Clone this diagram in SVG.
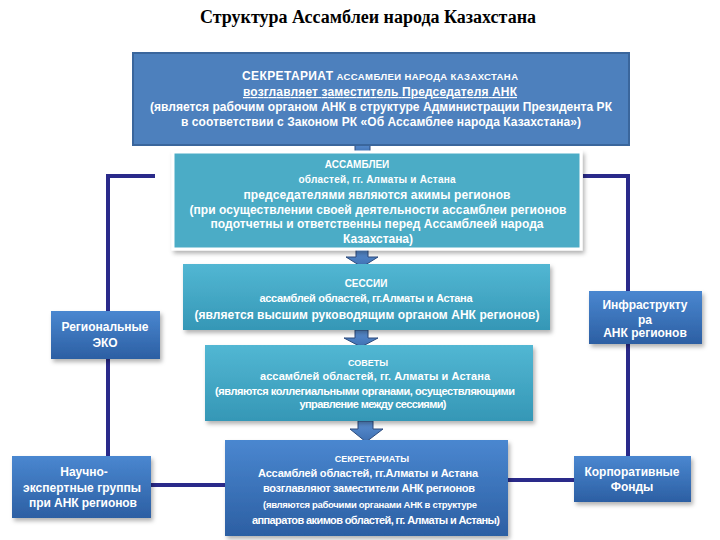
<svg xmlns="http://www.w3.org/2000/svg" width="720" height="540" viewBox="0 0 720 540">
<defs>
<linearGradient id="gBlue" x1="0" y1="0" x2="0" y2="1">
<stop offset="0" stop-color="#4a87d0"/>
<stop offset="1" stop-color="#2c5fa3"/>
</linearGradient>
<linearGradient id="gTeal" x1="0" y1="0" x2="0" y2="1">
<stop offset="0" stop-color="#52b7d3"/>
<stop offset="1" stop-color="#3597b6"/>
</linearGradient>
<linearGradient id="gArrow" x1="0" y1="0" x2="0" y2="1">
<stop offset="0" stop-color="#5b8fd0"/>
<stop offset="1" stop-color="#3d6fb2"/>
</linearGradient>
<filter id="sh" x="-10%" y="-10%" width="125%" height="135%">
<feDropShadow dx="2" dy="3" stdDeviation="2" flood-color="#000" flood-opacity="0.3"/>
</filter>
</defs>
<style>
text{font-family:"Liberation Sans",Arial,sans-serif;font-weight:bold;fill:#fff;text-anchor:middle}
.title{font-family:"Liberation Serif","Times New Roman",serif;fill:#000;font-size:18px}
.conn{stroke:#2a2a8a;stroke-width:4;fill:none}
.arrow{fill:url(#gArrow);stroke:#2c4b7c;stroke-width:1}
.blue{fill:url(#gBlue);filter:url(#sh)}
.teal{fill:url(#gTeal);filter:url(#sh)}
.s12{font-size:12px}
.s11{font-size:11px}
.s10{font-size:10px}
.s9{font-size:9px}
</style>
<rect width="720" height="540" fill="#fff"/>
<text class="title" x="368" y="23">Структура Ассамблеи народа Казахстана</text>

<g id="connectors">
<path class="conn" d="M155,176 H108 V456"/>
<path class="conn" d="M151,485 H225"/>
<path class="conn" d="M583,176 H628 V456"/>
<path class="conn" d="M508,480 H574"/>
<rect class="arrow" x="355" y="143" width="15" height="11"/>
<path class="arrow" d="M356,249 H368 V257 H378 L362,267 L346,257 H356 Z"/>
<path class="arrow" d="M355,330 H368 V338 H378 L361,347 L344,338 H355 Z"/>
<path class="arrow" d="M358,421 H373 V429 H383 L366,442 L350,429 H358 Z"/>
</g>

<g id="secretariat">
<rect x="133" y="53" width="496" height="92" fill="#4d80bd" stroke="#3a669c" stroke-width="2"/>
<text x="380" y="80" class="s12" textLength="276"><tspan>СЕКРЕТАРИАТ</tspan><tspan font-size="9.5px"> АССАМБЛЕИ НАРОДА КАЗАХСТАНА</tspan></text>
<text x="380" y="96" class="s12" text-decoration="underline" textLength="274">возглавляет заместитель Председателя АНК</text>
<text x="381" y="111" class="s12" textLength="462">(является рабочим органом АНК в структуре Администрации Президента РК</text>
<text x="381" y="126" class="s12" textLength="400">в соответствии с Законом РК «Об Ассамблее народа Казахстана»)</text>
</g>

<g id="assemblies">
<rect x="173" y="152" width="408" height="97" fill="#4bacc6" stroke="#fff" stroke-width="3" filter="url(#sh)"/>
<text x="357" y="168" class="s10">АССАМБЛЕИ</text>
<text x="377" y="183" class="s10" textLength="157">областей, гг. Алматы и Астана</text>
<text x="377" y="199" class="s12" textLength="267">председателями являются акимы регионов</text>
<text x="378" y="214" class="s12" textLength="377">(при осуществлении своей деятельности ассамблеи регионов</text>
<text x="377" y="228" class="s12" textLength="333">подотчетны и ответственны перед Ассамблеей народа</text>
<text x="378" y="243" class="s12" textLength="70">Казахстана)</text>
</g>

<g id="sessions">
<rect x="183" y="264" width="367" height="66" class="teal"/>
<text x="366" y="287" class="s10">СЕССИИ</text>
<text x="366" y="302" class="s11" textLength="213">ассамблей областей, гг.Алматы и Астана</text>
<text x="367" y="319" class="s12" textLength="345">(является высшим руководящим органом АНК регионов)</text>
</g>

<g id="councils">
<rect x="205" y="345" width="328" height="76" class="teal"/>
<text x="368" y="366" class="s9">СОВЕТЫ</text>
<text x="375" y="380" class="s11" textLength="230">ассамблей областей, гг. Алматы и Астана</text>
<text x="365" y="395" class="s11" textLength="300">(являются коллегиальными органами, осуществляющими</text>
<text x="373" y="408" class="s11" textLength="147">управление между сессиями)</text>
</g>

<g id="secretariats">
<rect x="225" y="440" width="283" height="96" class="blue"/>
<text x="372" y="462" class="s9">СЕКРЕТАРИАТЫ</text>
<text x="368" y="477" class="s11" textLength="220">Ассамблей областей, гг.Алматы и Астана</text>
<text x="369" y="492" class="s11" textLength="212">возглавляют заместители АНК регионов</text>
<text x="370" y="508" font-size="9.5px" textLength="214">(являются рабочими органами АНК в структуре</text>
<text x="376" y="524" class="s11" textLength="248">аппаратов акимов областей, гг. Алматы и Астаны)</text>
</g>

<g id="regional-eko">
<rect x="51" y="311" width="109" height="48" class="blue"/>
<text x="105" y="331" class="s12" textLength="87">Региональные</text>
<text x="105" y="347" class="s12">ЭКО</text>
</g>

<g id="expert-groups">
<rect x="12" y="456" width="139" height="62" class="blue"/>
<text x="84" y="476" class="s12">Научно-</text>
<text x="82" y="492" class="s12" textLength="118">экспертные группы</text>
<text x="83" y="507" class="s12" textLength="108">при АНК регионов</text>
</g>

<g id="infrastructure">
<rect x="589" y="291" width="113" height="53" class="blue"/>
<text x="645" y="309" class="s12" textLength="85">Инфраструкту</text>
<text x="645" y="324" class="s12">ра</text>
<text x="645" y="337" class="s12">АНК регионов</text>
</g>

<g id="corporate-funds">
<rect x="574" y="456" width="117" height="46" class="blue"/>
<text x="632" y="476" class="s12" textLength="95">Корпоративные</text>
<text x="632" y="491" class="s12">Фонды</text>
</g>
</svg>
